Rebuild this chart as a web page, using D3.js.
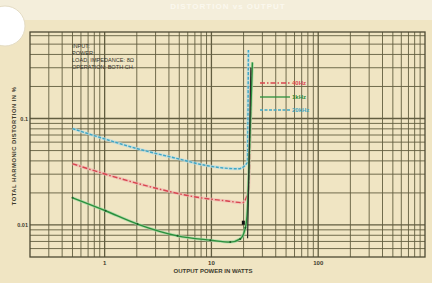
<!DOCTYPE html>
<html>
<head>
<meta charset="utf-8">
<script src="https://cdn.jsdelivr.net/npm/d3@7"></script>
<style>
  body { margin: 0; background: #efe4c2; }
  svg { display: block; font-family: "Liberation Sans", Arial, sans-serif; }
</style>
</head>
<body>
<div id="chart"></div>
<script>
// THD vs output power, 3 test frequencies
var freqLabels = ["40Hz", "1kHz", "20kHz"];

var power40 = [0.5, 1.14, 2.69, 7.9, 14.1, 19.5, 22.2, 23.7];
var thd40   = [0.0376, 0.029, 0.0228, 0.018, 0.0168, 0.0162, 0.021, 0.284];

var power1k = [0.5, 1.02, 2.03, 4.81, 9.78, 15.0, 18.6, 20.8, 21.7, 22.7, 24.2];
var thd1k   = [0.018, 0.0136, 0.0102, 0.0079, 0.0072, 0.0069, 0.0074, 0.0094, 0.0136, 0.0499, 0.337];

var power20k = [0.5, 0.92, 2.03, 4.81, 9.2, 17.9, 21.7, 22.2];
var thd20k   = [0.0805, 0.066, 0.052, 0.042, 0.036, 0.0337, 0.0385, 0.44];

var clipPower = [21.8, 22.4, 23.4];
var clipThd = [0.0075, 0.03, 0.30];

var xTicks = [1, 10, 100];
var yTicks = [0.01, 0.1];
var notes = ["INPUT:", "POWER:", "LOAD, IMPEDANCE: 8\u03a9", "OPERATION: BOTH CH."];

var width = 432, height = 283;
var svg = d3.select("#chart").append("svg")
    .attr("width", width)
    .attr("height", height);

// paper background
svg.append("rect").attr("width", width).attr("height", height).attr("fill", "#f0e5c3");
svg.append("rect").attr("width", width).attr("height", 20).attr("fill", "#f4eedb");
svg.append("text")
    .attr("x", 228).attr("y", 9)
    .attr("text-anchor", "middle")
    .attr("font-size", 8).attr("font-weight", "bold")
    .attr("fill", "#fbf8ee")
    .attr("letter-spacing", 1)
    .text("DISTORTION vs OUTPUT");

var x = d3.scaleLog().domain([0.2, 1000]).range([30, 425]);
var y = d3.scaleLog().domain([0.005, 0.65]).range([257, 32]);

// grid
var gridColor = "#625d40";
var xGrid = [];
[0.1, 1, 10, 100].forEach(function (dec) {
    for (var m = 1; m <= 9; m++) {
        var v = dec * m;
        if (v > 0.2 && v < 1000) xGrid.push(v);
    }
});
var yGrid = [];
[0.001, 0.01, 0.1].forEach(function (dec) {
    for (var m = 1; m <= 9; m++) {
        var v = dec * m;
        if (v > 0.005 && v < 0.65) yGrid.push(v);
    }
});

svg.append("g").selectAll("line")
    .data(xGrid).enter().append("line")
    .attr("x1", d => x(d)).attr("x2", d => x(d))
    .attr("y1", y(0.65)).attr("y2", y(0.005))
    .attr("stroke", gridColor)
    .attr("stroke-width", d => xTicks.indexOf(d) >= 0 ? 1.3 : 0.9);

svg.append("g").selectAll("line")
    .data(yGrid).enter().append("line")
    .attr("y1", d => y(d)).attr("y2", d => y(d))
    .attr("x1", x(0.2)).attr("x2", x(1000))
    .attr("stroke", gridColor)
    .attr("stroke-width", d => yTicks.indexOf(d) >= 0 ? 1.3 : 0.9);

svg.append("rect")
    .attr("x", x(0.2)).attr("y", y(0.65))
    .attr("width", x(1000) - x(0.2)).attr("height", y(0.005) - y(0.65))
    .attr("fill", "none").attr("stroke", "#4e4a34").attr("stroke-width", 1.3);

// tick labels
svg.append("g").selectAll("text")
    .data(xTicks).enter().append("text")
    .attr("x", d => x(d)).attr("y", 265)
    .attr("text-anchor", "middle")
    .attr("font-size", 6).attr("font-weight", "bold").attr("fill", "#3d3a2c")
    .text(d => d);

svg.append("g").selectAll("text")
    .data(yTicks).enter().append("text")
    .attr("x", 28).attr("y", d => y(d) + 2)
    .attr("text-anchor", "end")
    .attr("font-size", 5.5).attr("font-weight", "bold").attr("fill", "#3d3a2c")
    .text(d => d);

svg.append("text")
    .attr("x", 213).attr("y", 273)
    .attr("text-anchor", "middle")
    .attr("font-size", 6).attr("font-weight", "bold").attr("fill", "#3d3a2c")
    .text("OUTPUT POWER IN WATTS");

svg.append("text")
    .attr("transform", "translate(16,146) rotate(-90)")
    .attr("text-anchor", "middle")
    .attr("font-size", 5.8).attr("font-weight", "bold").attr("fill", "#3d3a2c")
    .attr("letter-spacing", 0.5)
    .text("TOTAL HARMONIC DISTORTION IN %");

// notes
svg.append("g").selectAll("text")
    .data(notes).enter().append("text")
    .attr("x", 72).attr("y", (d, i) => 48 + i * 7)
    .attr("font-size", 5.6).attr("fill", "#34312a")
    .text(d => d);

// curves
var line = d3.line()
    .x(d => x(d[0])).y(d => y(d[1]))
    .curve(d3.curveMonotoneX);
var lineSteep = d3.line()
    .x(d => x(d[0])).y(d => y(d[1]))
    .curve(d3.curveLinear);

var series = [
    { p: power20k, t: thd20k, color: "#3fa6c4", glow: "#b8dde4", dash: "3,1.5" },
    { p: power40, t: thd40, color: "#d8454f", glow: "#f0b8b0", dash: "5,2,1.5,2" },
    { p: power1k, t: thd1k, color: "#2a8f3c", glow: "#9ed8a0", dash: null }
];

series.forEach(function (s) {
    var pts = s.p.map((v, i) => [v, s.t[i]]);
    svg.append("path").datum(pts)
        .attr("d", line)
        .attr("fill", "none").attr("stroke", s.glow)
        .attr("stroke-width", 3).attr("opacity", 0.7);
    svg.append("path").datum(pts)
        .attr("d", line)
        .attr("fill", "none").attr("stroke", s.color)
        .attr("stroke-width", 1.4)
        .attr("stroke-dasharray", s.dash);
});

// dots on 1kHz curve
svg.append("g").selectAll("circle")
    .data(power1k.slice(0, 8).map((v, i) => [v, thd1k[i]]))
    .enter().append("circle")
    .attr("cx", d => x(d[0])).attr("cy", d => y(d[1]))
    .attr("r", 1).attr("fill", "#1d5a28");

// clipping line
svg.append("path")
    .datum(clipPower.map((v, i) => [v, clipThd[i]]))
    .attr("d", lineSteep)
    .attr("fill", "none").attr("stroke", "#2b2b26").attr("stroke-width", 1.2);

svg.append("rect")
    .attr("x", x(19.9) - 1.5).attr("y", y(0.0105) - 2)
    .attr("width", 3).attr("height", 4).attr("fill", "#111");

// legend
var legendY = [83, 97, 110];
var legendColors = ["#d8454f", "#2a8f3c", "#3fa6c4"];
var legendDash = ["5,2,1.5,2", null, "3,1.5"];
freqLabels.forEach(function (lab, i) {
    svg.append("line")
        .attr("x1", 260).attr("x2", 290)
        .attr("y1", legendY[i]).attr("y2", legendY[i])
        .attr("stroke", legendColors[i]).attr("stroke-width", 1.3)
        .attr("stroke-dasharray", legendDash[i]);
    svg.append("text")
        .attr("x", 292).attr("y", legendY[i] + 2)
        .attr("font-size", 6).attr("font-weight", "bold")
        .attr("fill", legendColors[i])
        .text(lab);
});

// hole punch
svg.append("circle")
    .attr("cx", 5).attr("cy", 26).attr("r", 20)
    .attr("fill", "#ffffff").attr("stroke", "#e4dcc4").attr("stroke-width", 1);
</script>
</body>
</html>
